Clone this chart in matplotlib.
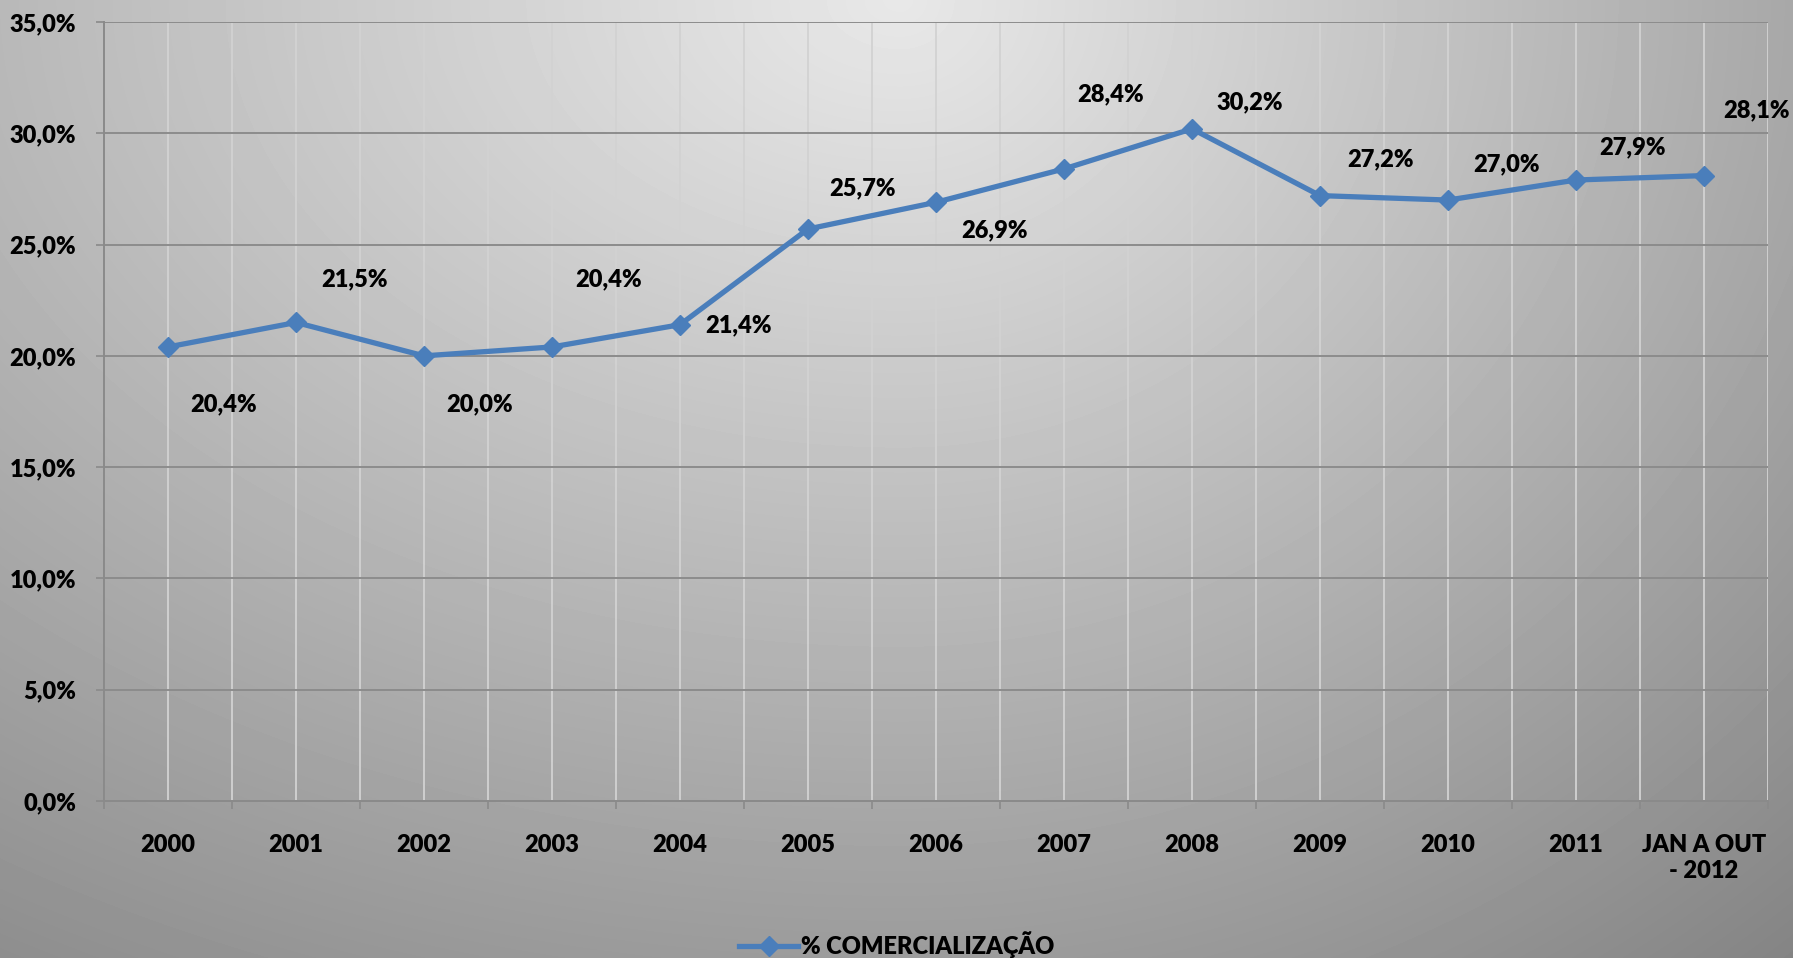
import matplotlib.pyplot as plt
import numpy as np

plt.rcParams['font.family'] = ['Lato', 'DejaVu Sans']
plt.rcParams['font.weight'] = 'heavy'

categories = ['2000', '2001', '2002', '2003', '2004', '2005', '2006',
              '2007', '2008', '2009', '2010', '2011', 'JAN A OUT\n- 2012']
values = [20.4, 21.5, 20.0, 20.4, 21.4, 25.7, 26.9, 28.4, 30.2, 27.2, 27.0, 27.9, 28.1]
series_name = '% COMERCIALIZAÇÃO'

# label offsets in pixels (as placed in the original chart)
label_offsets = [(56, -57), (58, 43), (56, -48), (57, 68), (58, -1), (55, 41), (58, -28),
                 (47, 75), (58, 27), (61, 36), (58, 36), (57, 33), (52, 65)]

W, H = 1793, 958
FS = 17
fig = plt.figure(figsize=(W / 100, H / 100), dpi=100)

# background gradient (light at top centre, darker towards the corners)
bg = fig.add_axes([0, 0, 1, 1], zorder=-10)
yy, xx = np.mgrid[0:H, 0:W]
dx = xx - 900.0
a = np.where(dx < 0, 0.053, 0.072)
v = 232 - np.sqrt((a * dx) ** 2 + (0.08 * yy) ** 2)
bg.imshow(v, cmap='gray', vmin=0, vmax=255, aspect='auto', interpolation='bilinear')
bg.axis('off')

ax = fig.add_axes([104 / W, 1 - 801 / H, (1768 - 104) / W, (801 - 22) / H])
ax.patch.set_alpha(0)

x = np.arange(len(values))
ax.plot(x, values, color='#4a7ebb', linewidth=3.8, marker='D', markersize=10,
        zorder=5, label=series_name)

for xi, val, (ox, oy) in zip(x, values, label_offsets):
    ax.annotate(f'{val:.1f}%'.replace('.', ','), (xi, val), xytext=(ox, oy),
                textcoords='offset pixels', ha='center', va='center',
                fontsize=FS, fontweight='heavy', color='black', zorder=6)

ax.set_xlim(-0.5, len(values) - 0.5)
ax.set_ylim(0, 35)

ax.set_yticks(np.arange(0, 36, 5))
ax.set_yticklabels([f'{t:.1f}%'.replace('.', ',') for t in np.arange(0, 36, 5)])

ax.set_xticks(np.arange(-0.5, len(values), 1.0))
ax.set_xticklabels([])
ax.set_xticks(x, minor=True)
ax.set_xticklabels(categories, minor=True)

ax.tick_params(axis='y', length=6, width=1.2, color='#8a8a8a', pad=14, labelsize=FS)
ax.tick_params(axis='x', which='major', length=6, width=1.2, color='#8a8a8a', direction='out')
ax.tick_params(axis='x', which='minor', length=0, pad=24, labelsize=FS)
for lab in ax.get_xticklabels(minor=True) + ax.get_yticklabels():
    lab.set_fontweight('heavy')

ax.grid(axis='y', color='#8c8c8c', linewidth=1.4)
ax.grid(axis='x', which='both', color='#d2d2d2', linewidth=1.3)
ax.set_axisbelow(True)

for s in ['top', 'right']:
    ax.spines[s].set_visible(False)
for s in ['left', 'bottom']:
    ax.spines[s].set_color('#8a8a8a')
    ax.spines[s].set_linewidth(1.4)

fig.legend(loc='center', bbox_to_anchor=(0.5, 13 / H), frameon=False,
           handlelength=2.5, handletextpad=0.1, prop={'weight': 'heavy', 'size': FS})

fig.savefig('out.png', dpi=100)
